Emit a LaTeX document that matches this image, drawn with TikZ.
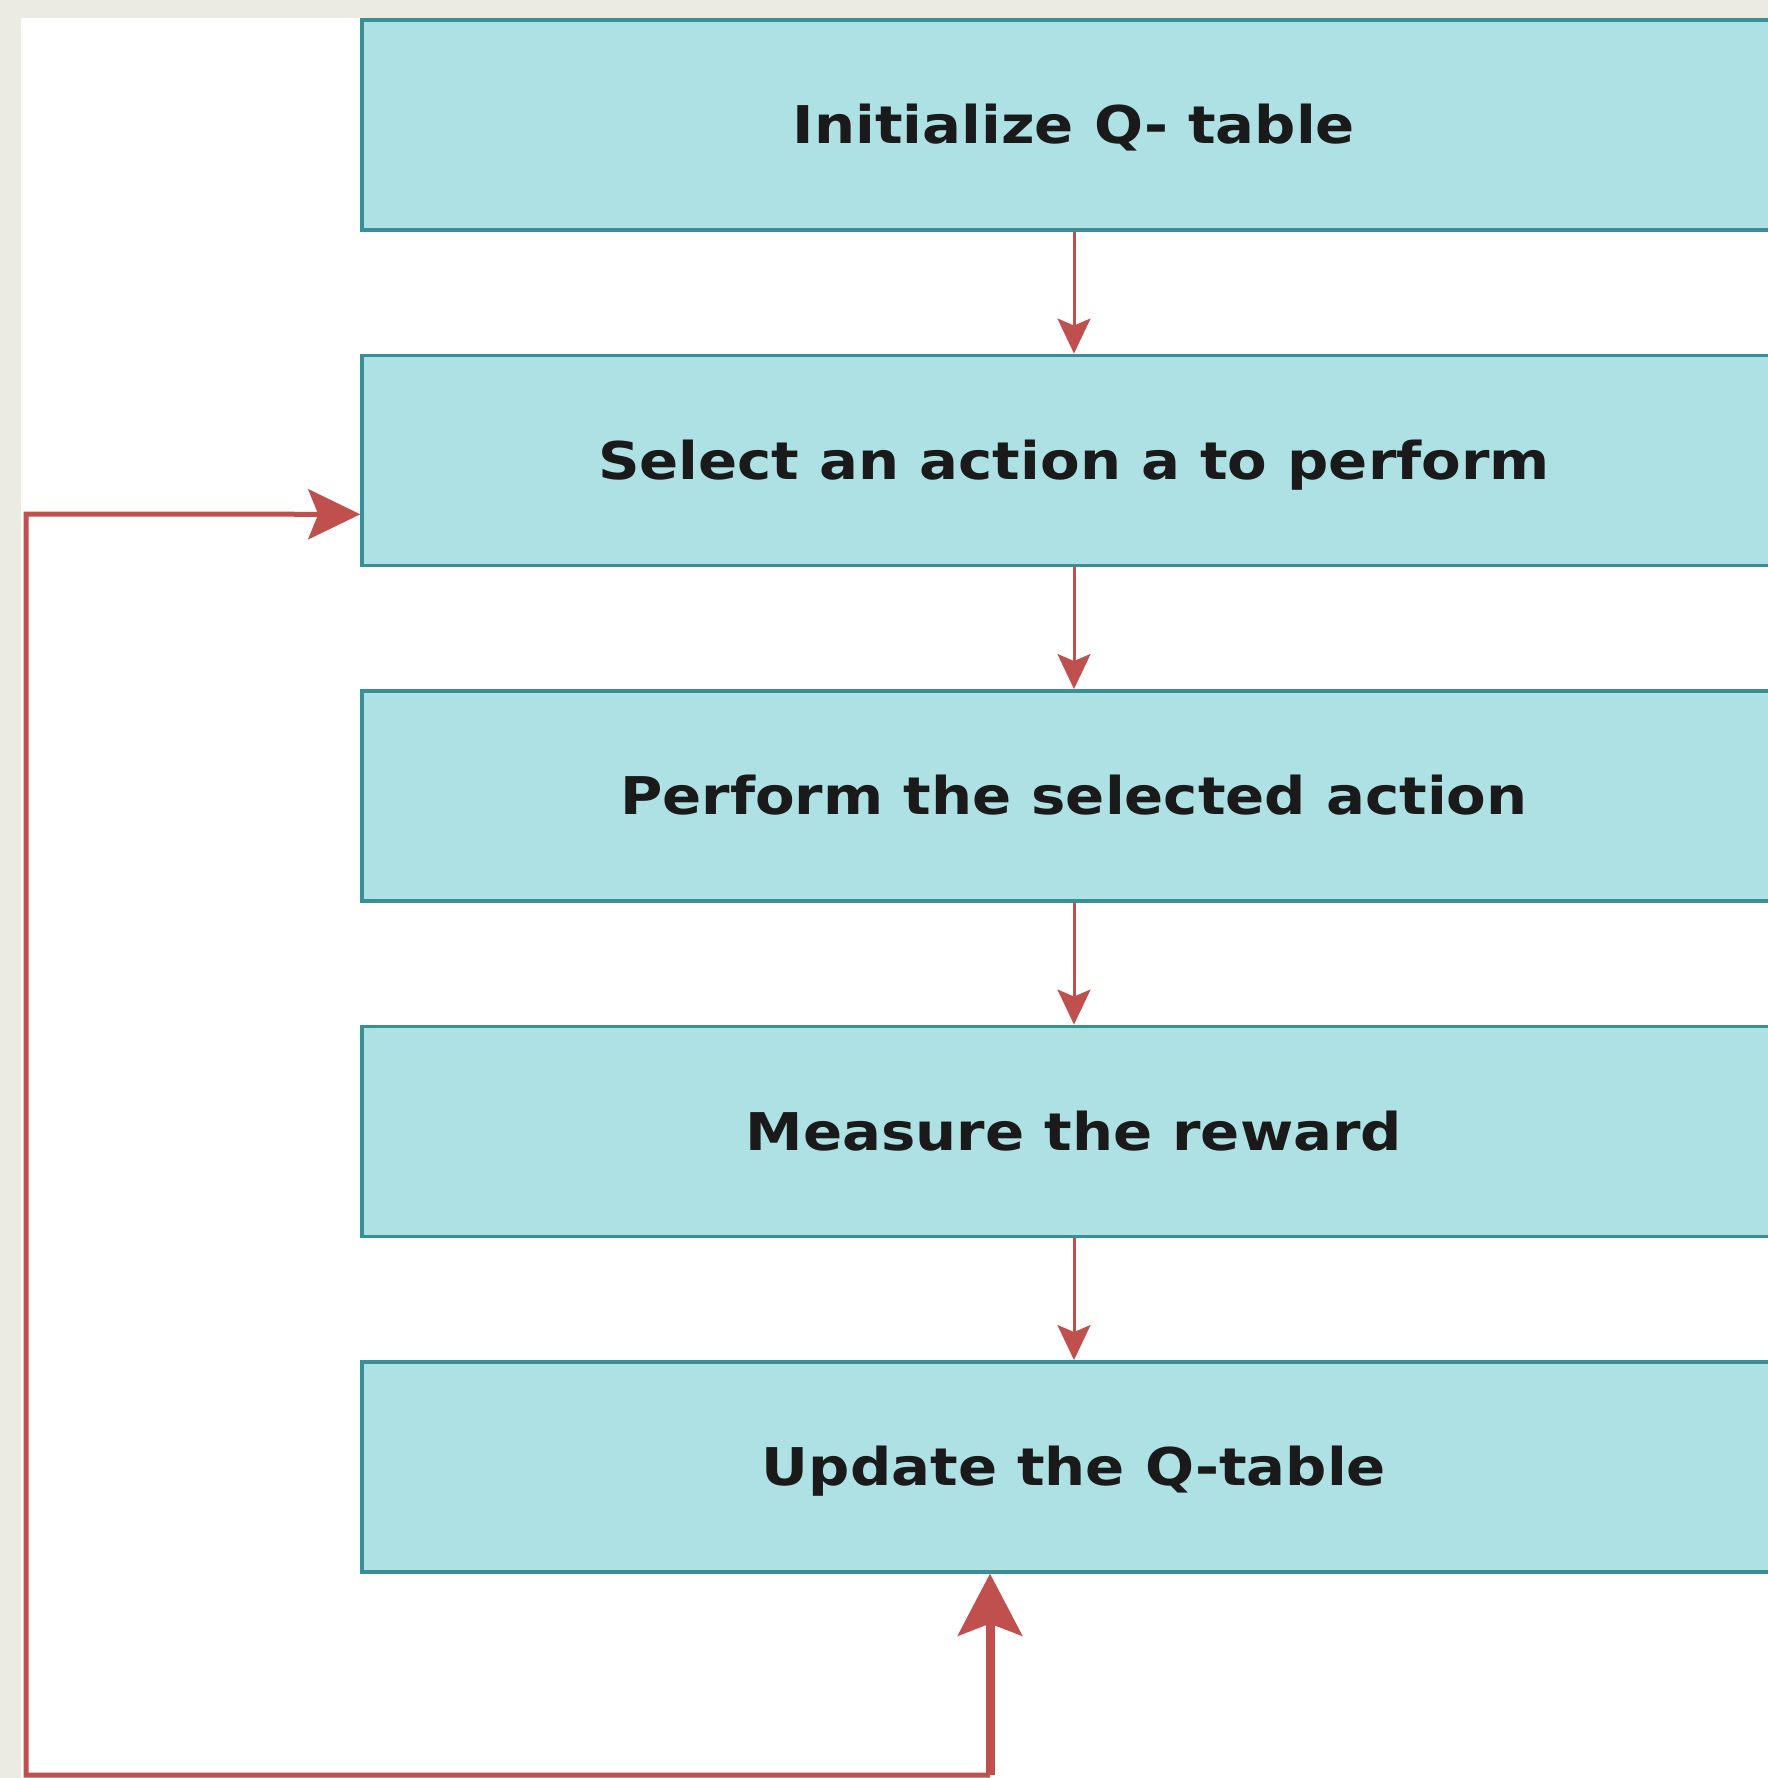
\documentclass[tikz,border=0pt]{standalone}
\usepackage{fontspec}
\setmainfont{DejaVu Sans}[FakeStretch=1.11]
\usetikzlibrary{arrows.meta}
\definecolor{bgbeige}{HTML}{ECEBE2}
\definecolor{boxfill}{HTML}{AEE1E4}
\definecolor{boxline}{HTML}{3A8E95}
\definecolor{arrred}{HTML}{C0504D}
\definecolor{txt}{HTML}{1A1A1A}
\tikzset{
  stepbox/.style={draw=boxline, line width=3.5pt, fill=boxfill, rectangle,
    minimum width=1424pt, minimum height=210pt, inner sep=0pt,
    text height=50pt, text depth=12pt,
    text=txt, font=\fontsize{52pt}{60pt}\selectfont\bfseries},
  flow/.style={draw=arrred, line width=3pt,
    -{Stealth[length=35pt,width=33pt,inset=7pt]}},
  looparrow/.style={draw=arrred, line width=5pt, line join=miter,
    -{Stealth[length=52pt,width=50pt,inset=10pt]}},
  bigup/.style={draw=arrred, line width=9pt,
    -{Stealth[length=62pt,width=64pt,inset=12pt]}}
}
\begin{document}
\begin{tikzpicture}[x=1pt,y=-1pt]
\useasboundingbox (0,0) rectangle (1768,1778);
\clip (0,0) rectangle (1768,1778);
\fill[bgbeige] (0,0) rectangle (1768,1778);
\fill[white] (21,18) rectangle (1768,1778);
\node[stepbox] (b1) at (1074,124.8) {Initialize Q- table};
\node[stepbox] (b2) at (1074,460.3) {Select an action a to perform};
\node[stepbox] (b3) at (1074,795.8) {Perform the selected action};
\node[stepbox] (b4) at (1074,1131.3) {Measure the reward};
\node[stepbox] (b5) at (1074,1466.8) {Update the Q-table};
\draw[flow] (b1.south) -- (b2.north);
\draw[flow] (b2.south) -- (b3.north);
\draw[flow] (b3.south) -- (b4.north);
\draw[flow] (b4.south) -- (b5.north);
\coordinate (cl) at (26,1775);
\coordinate (cr) at (990,1775);
\coordinate (ct) at (26,514);
\draw[looparrow] (cr) -- (cl) -- (ct) -- ([yshift=-54pt]b2.west);
\draw[bigup] (cr) -- ([xshift=-84pt]b5.south);
\end{tikzpicture}
\end{document}
